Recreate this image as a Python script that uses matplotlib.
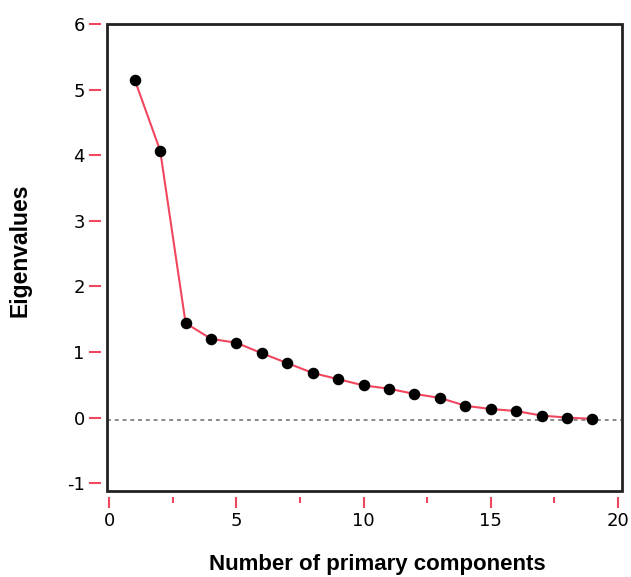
import matplotlib.pyplot as plt
from matplotlib.patches import Rectangle
from matplotlib.ticker import MultipleLocator

plt.rcParams['axes.unicode_minus'] = False

components = list(range(1, 20))
eigenvalues = [5.15, 4.07, 1.44, 1.20, 1.14, 0.98, 0.83, 0.68, 0.585, 0.49,
               0.44, 0.36, 0.30, 0.18, 0.13, 0.10, 0.03, 0.00, -0.02]
baseline = -0.04

red = '#f0475f'

fig = plt.figure(figsize=(6.31, 5.77), dpi=100)
ax = fig.add_axes([0.1696, 0.149, 0.8161, 0.8094])

ax.axhline(baseline, color='#888888', linestyle=(0, (2, 2)), linewidth=1.4, zorder=1)
ax.plot(components, eigenvalues, color=red, linewidth=1.5, zorder=2)
ax.plot(components, eigenvalues, 'o', color='black', markersize=7.3, zorder=3)

ax.set_xlim(-0.09, 20.16)
ax.set_ylim(-1.12, 6)

# detached ticks: move invisible spines outward, draw the box separately
for side in ['left', 'bottom']:
    ax.spines[side].set_position(('outward', 4))
for side in ax.spines:
    ax.spines[side].set_visible(False)
ax.add_patch(Rectangle((0, 0), 1, 1, transform=ax.transAxes, fill=False,
                       edgecolor='#222222', linewidth=2, clip_on=False, zorder=5))

ax.xaxis.set_major_locator(MultipleLocator(5))
ax.xaxis.set_minor_locator(MultipleLocator(2.5))
ax.yaxis.set_major_locator(MultipleLocator(1))
ax.tick_params(axis='x', which='major', direction='out', length=8, width=1.5,
               color=red, labelsize=13, pad=3)
ax.tick_params(axis='x', which='minor', direction='out', length=4, width=1.5, color=red)
ax.tick_params(axis='y', which='major', direction='out', length=9, width=1.5,
               color=red, labelsize=13, pad=3)
for t in ax.yaxis.get_major_ticks():
    if abs(t.get_loc()) < 1e-9:
        t.tick1line.set_color('#888888')

ax.set_xlabel('Number of primary components', fontsize=16, fontweight='bold',
              family='Liberation Sans')
ax.set_ylabel('Eigenvalues', fontsize=16.5, fontweight='bold',
              family='Liberation Sans')
ax.xaxis.set_label_coords(0.524, -0.134)
ax.yaxis.set_label_coords(-0.146, 0.516)

fig.savefig('out.png', dpi=100)
